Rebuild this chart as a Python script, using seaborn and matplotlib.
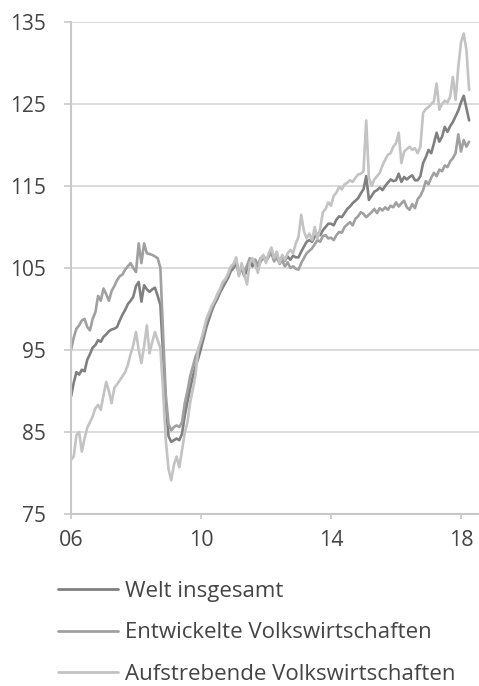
import numpy as np
import pandas as pd
import matplotlib
matplotlib.use("Agg")
import matplotlib.pyplot as plt
import seaborn as sns
from matplotlib.lines import Line2D

# Monthly index values, January 2006 to April 2018 (one row per year)
start_year = 2006

welt = [
    89.3, 91.0, 92.3, 92.0, 92.6, 92.4, 93.8, 94.5, 95.3, 95.6, 96.2, 96.0,
    96.6, 96.9, 97.3, 97.5, 97.6, 97.8, 98.6, 99.3, 99.9, 100.6, 101.0, 101.5,
    102.8, 103.3, 100.9, 102.9, 102.4, 102.1, 102.4, 102.6, 101.6, 100.5, 94.5, 88.5,
    84.5, 83.8, 84.0, 84.2, 84.0, 84.8, 87.0, 88.7, 90.3, 91.8, 93.0, 94.0,
    95.2, 96.5, 97.8, 98.8, 99.8, 100.6, 101.2, 102.0, 102.6, 103.2, 103.8, 104.6,
    105.0, 105.6, 104.2, 105.0, 104.0, 104.8, 105.8, 105.2, 106.0, 105.0, 105.8, 106.3,
    105.8, 106.4, 106.9, 106.0, 106.6, 105.8, 106.4, 105.9, 106.4, 106.0, 106.5, 106.3,
    106.3, 107.0, 107.6, 108.2, 108.4, 108.2, 108.8, 109.2, 109.0, 109.6, 110.0, 110.4,
    110.4, 110.2, 110.9, 111.3, 111.2, 111.7, 112.2, 112.5, 112.9, 113.2, 113.5, 114.1,
    114.6, 116.2, 113.3, 113.8, 114.3, 114.5, 114.8, 114.5, 115.0, 115.4, 115.8, 115.6,
    115.7, 116.5, 115.5, 116.1, 115.8, 116.1, 116.3, 115.7, 115.7, 116.2, 117.8, 118.5,
    119.4, 119.0, 120.2, 121.5, 120.4, 121.0, 122.2, 121.6, 122.3, 122.8, 123.5, 124.2,
    125.2, 126.0, 124.5, 123.0,
]

entwickelt = [
    95.0, 96.5, 97.6, 98.0, 98.6, 98.8, 97.8, 97.4, 98.8, 99.6, 101.6, 101.0,
    102.5, 101.8, 101.0, 102.2, 102.8, 103.5, 104.0, 104.2, 104.8, 105.2, 105.6, 105.0,
    104.5, 108.0, 105.6, 108.0, 106.8, 106.7, 106.6, 106.4, 106.2, 105.0, 97.0, 89.5,
    86.0, 85.2, 85.6, 85.8, 85.6, 86.2, 88.5, 90.0, 91.8, 93.0, 94.2, 95.0,
    96.0, 97.2, 98.5, 99.3, 100.2, 100.9, 101.5, 102.3, 103.0, 103.6, 104.2, 105.0,
    105.3, 106.0, 104.5, 105.2, 104.6, 105.3, 106.2, 105.8, 106.0, 105.4, 106.2, 106.5,
    106.0, 106.5, 106.8, 105.8, 106.3, 105.5, 105.9, 105.2, 105.7, 105.0, 105.2, 104.9,
    104.8, 105.6, 106.2, 106.8, 107.1, 107.4, 107.9, 108.4, 108.2, 108.9, 109.0, 108.6,
    108.7, 108.4, 109.0, 109.4, 109.3, 110.0, 110.3, 110.6, 110.2, 111.0, 111.3, 111.8,
    111.6, 111.2, 111.5, 111.8, 112.2, 111.7, 112.3, 112.0, 112.4, 112.1, 112.6, 112.4,
    113.0, 112.5, 112.9, 113.2, 112.4, 112.1, 112.8, 112.3, 113.4, 113.8, 114.5, 115.6,
    115.2, 116.0, 116.6, 116.2, 117.0, 116.8, 117.5, 117.3, 118.0, 118.4, 119.0, 121.3,
    119.2, 120.6, 119.8, 120.4,
]

aufstrebend = [
    81.6, 82.0, 84.6, 85.0, 82.6, 84.2, 85.5, 86.2, 86.9, 87.9, 88.3, 87.7,
    89.5, 91.1, 90.0, 88.5, 90.4, 90.8, 91.3, 91.8, 92.3, 93.2, 94.5, 95.6,
    97.2, 95.0, 93.4, 95.5, 98.0, 94.6, 96.0, 97.2, 96.2, 95.2, 90.0, 84.0,
    80.5, 79.1, 81.0, 82.0, 80.7, 82.8, 84.9, 86.2, 88.6, 90.2, 92.0, 95.2,
    96.2, 97.4, 98.8, 99.6, 100.4, 101.0, 101.8, 102.4, 103.3, 103.6, 104.3, 105.2,
    105.5, 106.3, 104.0, 105.6, 104.2, 103.0, 105.6, 106.2, 105.4, 104.4, 106.0, 106.6,
    105.6, 106.8, 107.5, 106.2, 107.0, 105.6, 106.6, 106.0, 106.8, 107.2, 106.8, 108.0,
    108.8, 111.5, 109.5, 108.6, 109.2, 108.4, 110.0, 108.6, 109.8, 111.8, 112.2, 113.0,
    112.6, 113.8, 114.2, 114.9, 114.6, 115.2, 115.4, 115.7, 115.5, 116.0, 116.4, 116.5,
    116.8, 123.0, 116.0, 115.0, 115.8, 116.2, 116.6, 117.5, 118.2, 118.8, 119.0, 119.8,
    120.2, 121.5, 117.8, 119.2, 119.5, 119.8, 119.4, 119.6, 119.0, 119.8, 123.9, 124.4,
    124.6, 125.0, 125.3, 127.5, 124.3, 125.0, 125.4, 125.2, 125.9, 128.3, 125.5, 129.5,
    132.5, 133.6, 131.6, 126.7,
]

series_names = ["Welt insgesamt", "Entwickelte Volkswirtschaften",
                "Aufstrebende Volkswirtschaften"]
series_colors = ["#808080", "#a0a0a0", "#c3c3c3"]

y_ticks = [75, 85, 95, 105, 115, 125, 135]
x_ticks = [2006, 2010, 2014, 2018]
x_tick_labels = ["06", "10", "14", "18"]

# Long-format table for seaborn
frames = []
for name, values in zip(series_names, [welt, entwickelt, aufstrebend]):
    t = start_year + np.arange(len(values)) / 12.0
    frames.append(pd.DataFrame({"Zeit": t, "Index": values, "Reihe": name}))
df = pd.concat(frames, ignore_index=True)

sns.set_style("white")
plt.rcParams["font.family"] = ["Open Sans", "DejaVu Sans"]
text_color = "#444444"
axis_color = "#c8c8c8"
grid_color = "#dcdcdc"

fig = plt.figure(figsize=(4.79, 6.86), dpi=100)
ax = fig.add_axes([71 / 479, 1 - 514 / 686, 408 / 479, 492 / 686])

sns.lineplot(data=df, x="Zeit", y="Index", hue="Reihe",
             hue_order=series_names, palette=series_colors,
             linewidth=1.9, legend=False, ax=ax)

ax.set_xlim(2006, 2006 + 408 / 32.5)
ax.set_ylim(75, 135)
ax.set_yticks(y_ticks)
ax.set_yticklabels([str(v) for v in y_ticks])
ax.set_xticks(x_ticks)
ax.set_xticklabels(x_tick_labels)
ax.set_xlabel("")
ax.set_ylabel("")

for v in y_ticks[1:]:
    ax.axhline(v, color=grid_color, linewidth=1.4, zorder=0)

for side in ["top", "right"]:
    ax.spines[side].set_visible(False)
for side in ["left", "bottom"]:
    ax.spines[side].set_color(axis_color)
    ax.spines[side].set_linewidth(1.5)

ax.tick_params(axis="y", length=5, width=1.2, color=axis_color, pad=13,
               labelsize=15, labelcolor=text_color, left=True)
ax.tick_params(axis="x", length=3.5, width=1.2, color=axis_color, pad=8,
               labelsize=15.5, labelcolor=text_color, bottom=True)

handles = [Line2D([0], [0], color=c, linewidth=2.0) for c in series_colors]
leg = fig.legend(handles, series_names, loc="upper left",
                 bbox_to_anchor=(58 / 479, 1 - 581 / 686),
                 frameon=False, fontsize=16, handlelength=2.7,
                 handletextpad=0.3, labelspacing=0.92,
                 borderpad=0, borderaxespad=0)
for txt in leg.get_texts():
    txt.set_color(text_color)

fig.savefig("out.png", dpi=100)
